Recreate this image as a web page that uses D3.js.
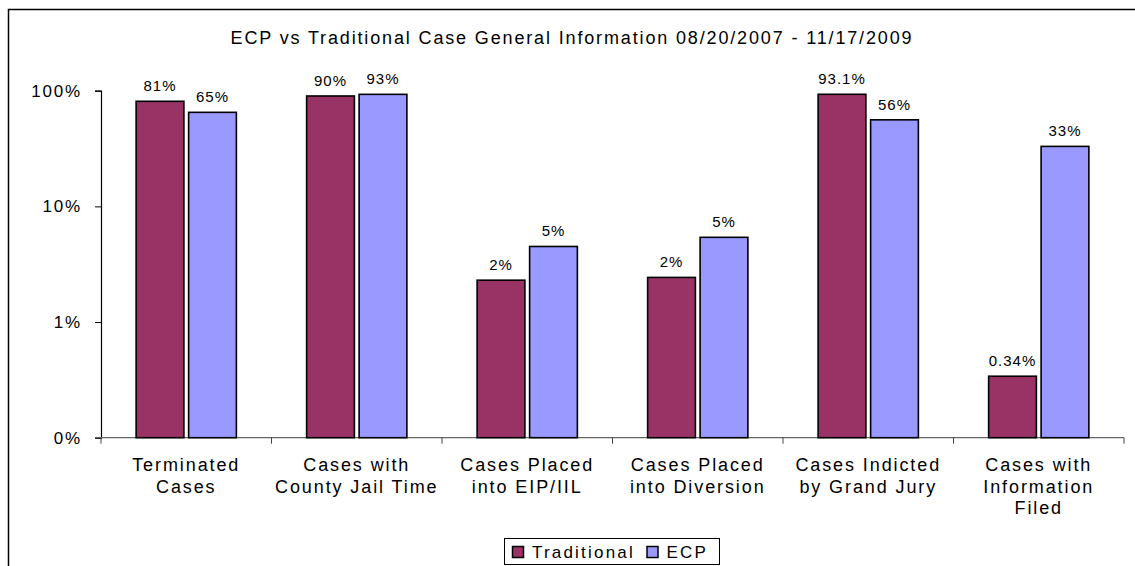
<!DOCTYPE html>
<html>
<head>
<meta charset="utf-8">
<script src="https://cdn.jsdelivr.net/npm/d3@7"></script>
<style>
    body { margin: 0; background: #fff; }
    text { font-family: "Liberation Sans", Arial, sans-serif; fill: #000; }
</style>
</head>
<body>
<div id="viz"></div>
<script>
// Datos
let categorias = [
    ['Terminated', 'Cases'],
    ['Cases with', 'County Jail Time'],
    ['Cases Placed', 'into EIP/IIL'],
    ['Cases Placed', 'into Diversion'],
    ['Cases Indicted', 'by Grand Jury'],
    ['Cases with', 'Information', 'Filed']
];
let series = ['Traditional', 'ECP'];
let valoresTradicional = [81, 90, 2.3, 2.43, 93.1, 0.34];
let valoresECP = [65, 93, 4.5, 5.4, 56, 33];
let etiquetasTradicional = ['81%', '90%', '2%', '2%', '93.1%', '0.34%'];
let etiquetasECP = ['65%', '93%', '5%', '5%', '56%', '33%'];
let ticksY = [0.1, 1, 10, 100];
let etiquetasTicksY = ['0%', '1%', '10%', '100%'];
let colores = ['#993366', '#9999ff'];
let titulo = 'ECP vs Traditional Case General Information 08/20/2007 - 11/17/2009';

let w = 1135;
let h = 566;

let svg = d3.select('#viz')
    .append('svg')
        .attr('width', w)
        .attr('height', h);

svg.append('rect').attr('width', w).attr('height', h).attr('fill', '#fff');

// Borde del área del gráfico (solo arriba e izquierda visibles)
svg.append('path')
    .attr('d', 'M8.5,' + h + 'V9.5H' + w)
    .attr('fill', 'none')
    .attr('stroke', '#000')
    .attr('stroke-width', 1.5);

// Escalas
let x0 = d3.scaleBand()
    .domain(d3.range(categorias.length))
    .range([101, 1124]);

let x1 = d3.scaleBand()
    .domain(series)
    .range([x0.bandwidth() * 0.206, x0.bandwidth() * 0.794])
    .paddingInner(0.09);

let y = d3.scaleLog()
    .domain([0.1, 100])
    .range([437.7, 90.7]);

// Eje Y
let ejeY = svg.append('g')
    .attr('transform', 'translate(101,0)')
    .call(d3.axisLeft(y)
        .tickValues(ticksY)
        .tickFormat((d, i) => etiquetasTicksY[i])
        .tickSize(6)
        .tickPadding(13));
ejeY.select('.domain').attr('stroke', '#000').attr('stroke-width', 1.2);
ejeY.selectAll('.tick line').attr('stroke', '#000');
ejeY.selectAll('text')
    .attr('font-size', '17px')
    .style('letter-spacing', '1.8px')
    .attr('font-family', '"Liberation Sans", Arial, sans-serif');

// Eje X (solo línea y marcas en los límites de categorías)
let ejeX = svg.append('g').attr('transform', 'translate(0,437.7)');
ejeX.append('line')
    .attr('x1', x0.range()[0] - 6).attr('x2', x0.range()[1])
    .attr('stroke', '#666').attr('stroke-width', 1.2);
ejeX.selectAll('.marca')
    .data(d3.range(categorias.length + 1))
    .enter().append('line')
        .attr('class', 'marca')
        .attr('x1', d => x0.range()[0] + d * x0.step())
        .attr('x2', d => x0.range()[0] + d * x0.step())
        .attr('y1', 0).attr('y2', 6)
        .attr('stroke', '#444').attr('stroke-width', 1);

// Etiquetas de categorías
let grupoCat = svg.append('g');
categorias.forEach(function(lineas, i) {
    let t = grupoCat.append('text')
        .attr('x', x0(i) + x0.bandwidth() / 2)
        .attr('y', 470.7)
        .attr('text-anchor', 'middle')
        .attr('font-size', '18px')
        .style('letter-spacing', '1.9px');
    lineas.forEach(function(l, j) {
        t.append('tspan')
            .attr('x', x0(i) + x0.bandwidth() / 2)
            .attr('dy', j == 0 ? 0 : 21.8)
            .text(l);
    });
});

// Barras
let datos = [];
categorias.forEach(function(c, i) {
    datos.push({ cat: i, serie: 'Traditional', valor: valoresTradicional[i], etiqueta: etiquetasTradicional[i], color: colores[0] });
    datos.push({ cat: i, serie: 'ECP', valor: valoresECP[i], etiqueta: etiquetasECP[i], color: colores[1] });
});

svg.selectAll('.barra')
    .data(datos)
    .enter().append('rect')
        .attr('class', 'barra')
        .attr('x', d => x0(d.cat) + x1(d.serie))
        .attr('width', x1.bandwidth())
        .attr('y', d => y(d.valor))
        .attr('height', d => y(0.1) - y(d.valor))
        .attr('fill', d => d.color)
        .attr('stroke', '#000')
        .attr('stroke-width', 1.6);

svg.selectAll('.label')
    .data(datos)
    .enter().append('text')
        .attr('class', 'label')
        .attr('x', d => x0(d.cat) + x1(d.serie) + x1.bandwidth() / 2)
        .attr('y', d => y(d.valor) - 10)
        .attr('text-anchor', 'middle')
        .attr('font-size', '15px')
        .style('letter-spacing', '1px')
        .text(d => d.etiqueta);

// Título, con espaciado ajustado al ancho del original
let tituloTxt = svg.append('text')
    .attr('x', 572)
    .attr('y', 43.5)
    .attr('text-anchor', 'middle')
    .attr('font-size', '18px')
    .text(titulo);
let anchoNatural = tituloTxt.node().getComputedTextLength();
let espaciado = (681 - anchoNatural) / (titulo.length - 1);
tituloTxt.style('letter-spacing', espaciado + 'px');

// Leyenda
let leyenda = svg.append('g');
leyenda.append('rect')
    .attr('x', 504.5).attr('y', 538.5)
    .attr('width', 215).attr('height', 26)
    .attr('fill', '#fff')
    .attr('stroke', '#000')
    .attr('stroke-width', 1);
let posLeyenda = [{ x: 512.5, tx: 532 }, { x: 647, tx: 666.5 }];
series.forEach(function(s, i) {
    leyenda.append('rect')
        .attr('x', posLeyenda[i].x).attr('y', 546.5)
        .attr('width', 11).attr('height', 11)
        .attr('fill', colores[i])
        .attr('stroke', '#000')
        .attr('stroke-width', 1.5);
    leyenda.append('text')
        .attr('x', posLeyenda[i].tx)
        .attr('y', 558)
        .attr('font-size', '17px')
        .style('letter-spacing', '2.2px')
        .text(s);
});
</script>
</body>
</html>
